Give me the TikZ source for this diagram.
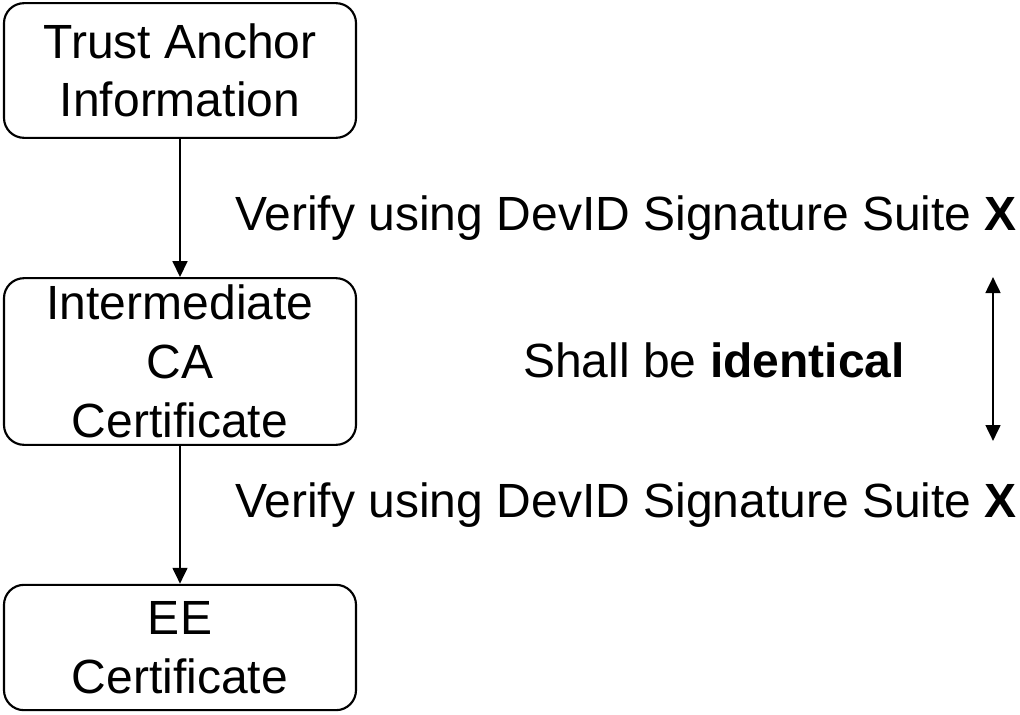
\documentclass[tikz,border=0pt]{standalone}
\usepackage{fontspec}
\setmainfont{Liberation Sans}
\usetikzlibrary{arrows.meta}
\begin{document}
\begin{tikzpicture}[x=0.75pt,y=-0.75pt,
  box/.style={draw,line width=1.6pt,rounded corners=15pt,align=center,font=\fontsize{36}{44}\selectfont,inner sep=0pt},
  lab/.style={font=\fontsize{36}{44}\selectfont,inner sep=0pt},
  conn/.style={line width=2pt,-{Triangle[length=12pt,width=11pt]}}]
\useasboundingbox (0,0) rectangle (1020,714);
\node[box,minimum width=264pt,minimum height=101pt] (ta) at (180,70.5) {Trust Anchor\\Information};
\node[box,minimum width=264pt,minimum height=125pt] (ca) at (180,361.5) {Intermediate\\CA\\Certificate};
\node[box,minimum width=264pt,minimum height=94pt] (ee) at (180,647.5) {EE\\Certificate};
\draw[conn] (ta.south) -- (ca.north);
\draw[conn] (ca.south) -- (ee.north);
\node[lab,anchor=west] (v1) at (235,218) {Verify using DevID Signature Suite \textbf{X}};
\node[lab,anchor=west] (v2) at (235,505) {Verify using DevID Signature Suite \textbf{X}};
\node[lab] (si) at (714,360) {Shall be \textbf{identical}};
\coordinate (d1) at (993,277);
\coordinate (d2) at (993,441);
\draw[line width=2pt,{Triangle[length=12pt,width=11pt]}-{Triangle[length=12pt,width=11pt]}] (d1) -- (d2);
\end{tikzpicture}
\end{document}
